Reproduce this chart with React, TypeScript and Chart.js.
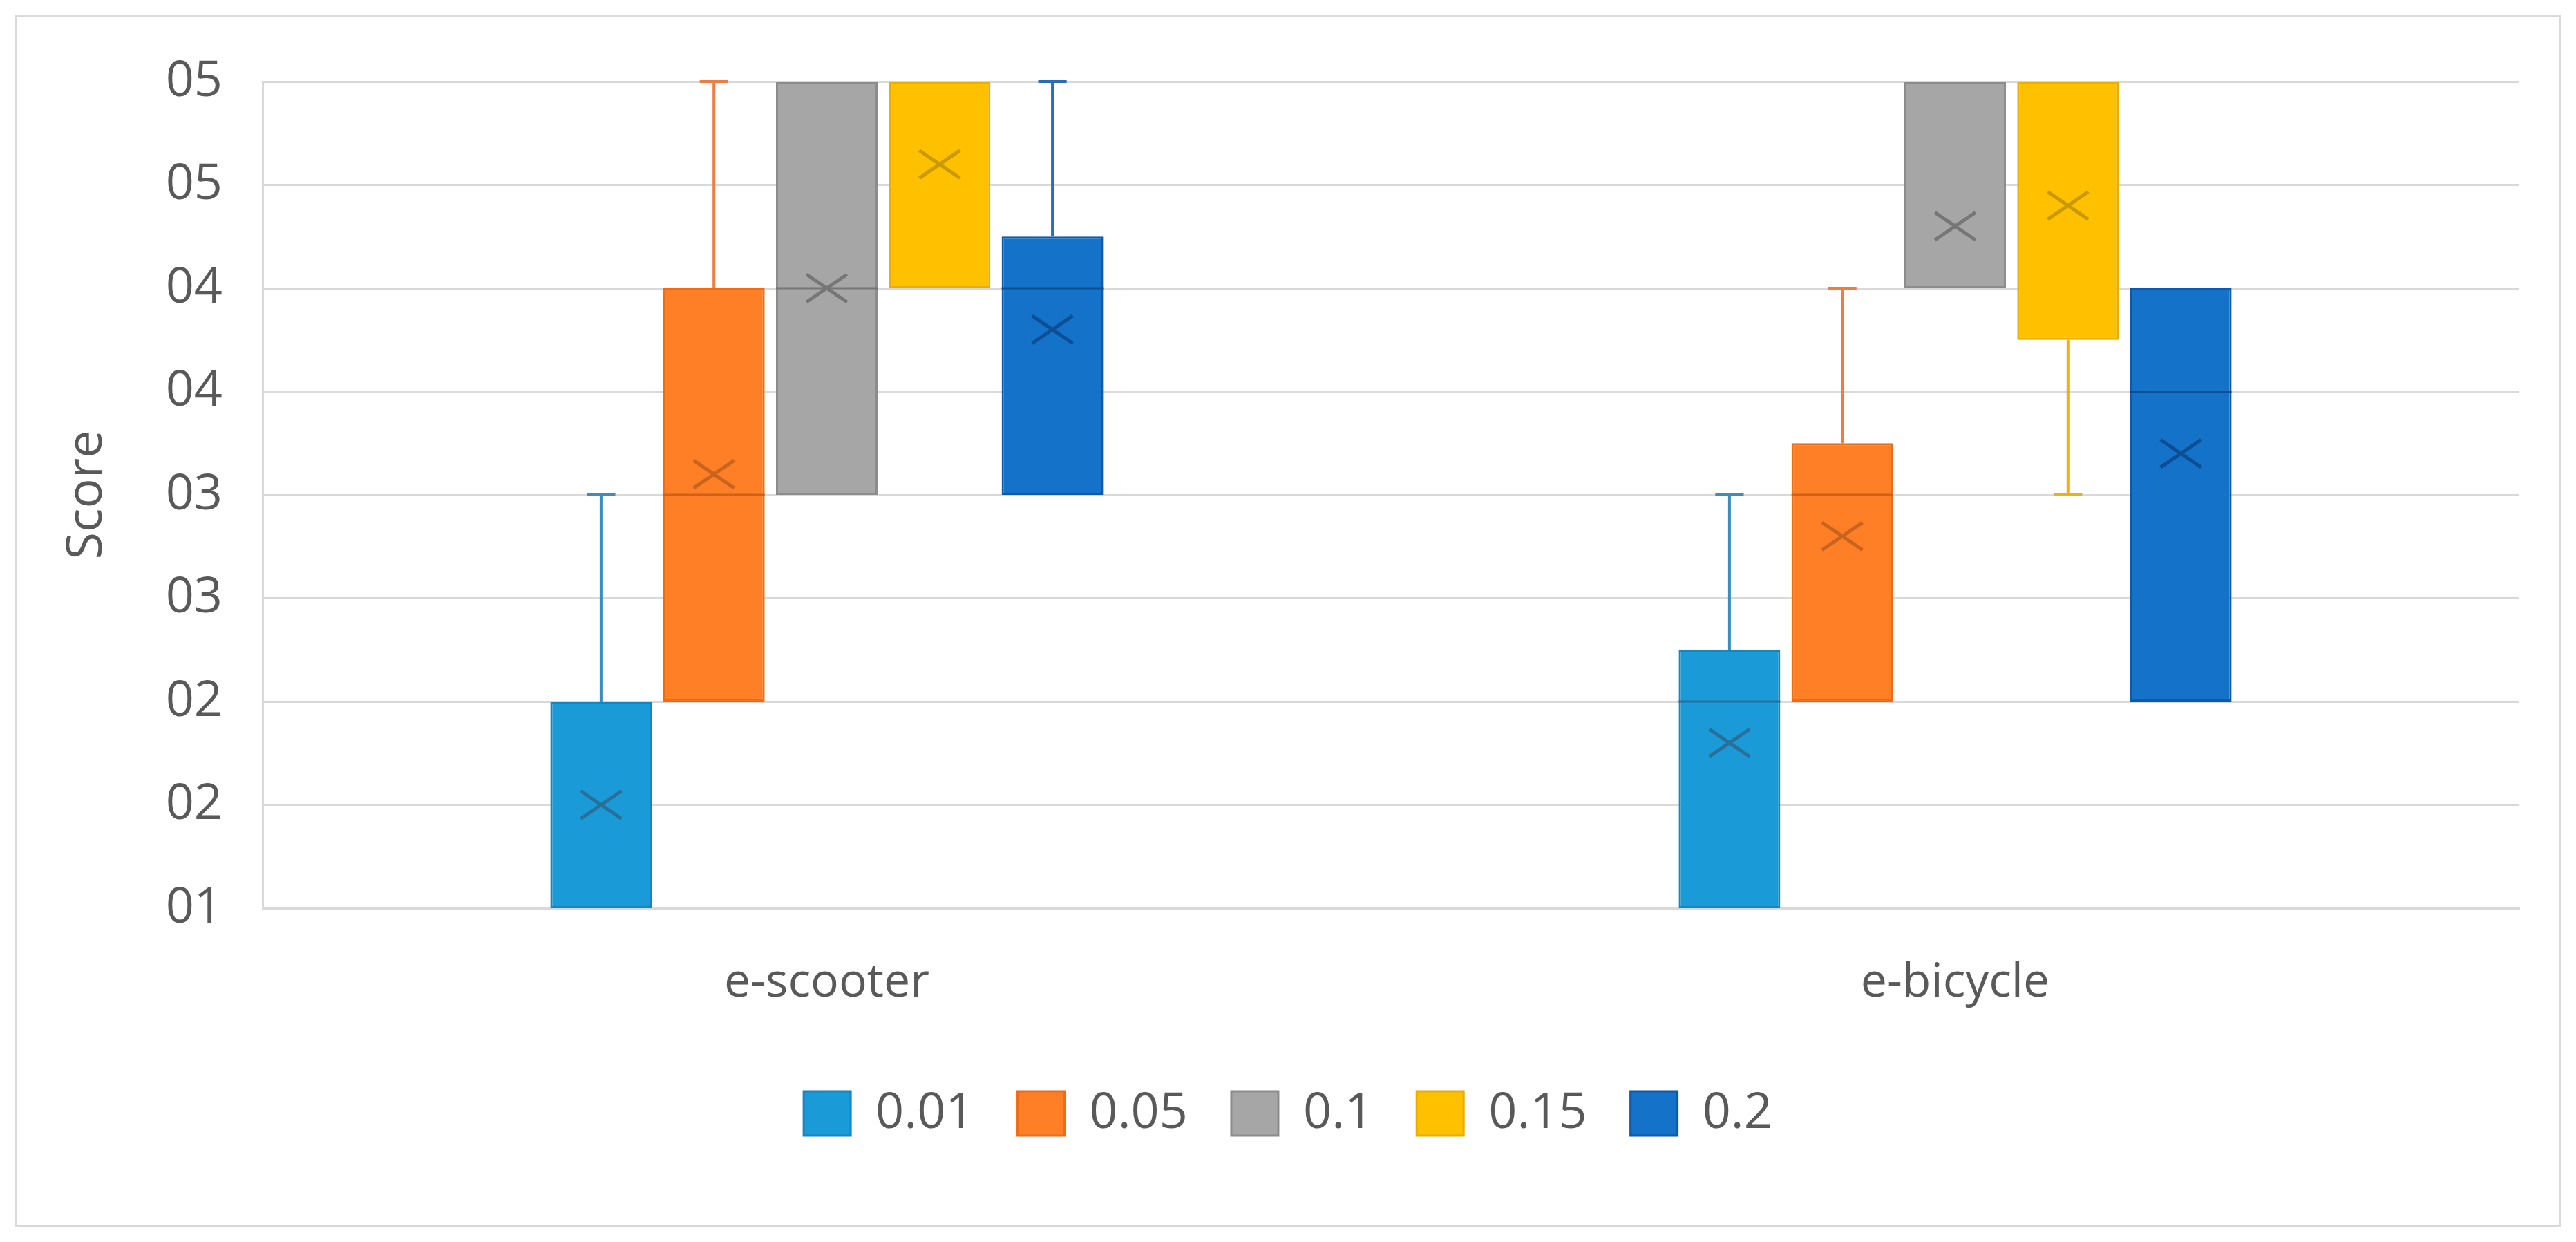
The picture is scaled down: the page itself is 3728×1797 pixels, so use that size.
import { useEffect, useRef } from 'react';
import { Chart, registerables } from 'chart.js';

Chart.register(...registerables);

// ---- data ----
const categories = ['e-scooter', 'e-bicycle'];
const seriesLabels = ['0.01', '0.05', '0.1', '0.15', '0.2'];
// [series][category]
const minValues = [[1, 1], [2, 2], [3, 4], [4, 3], [3, 2]];
const q1Values = [[1, 1], [2, 2], [3, 4], [4, 3.75], [3, 2]];
const medianValues = [[1, 2], [3, 3], [4, 4], [5, 5], [4, 3.5]];
const q3Values = [[2, 2.25], [4, 3.25], [5, 5], [5, 5], [4.25, 4]];
const maxValues = [[3, 3], [5, 4], [5, 5], [5, 5], [5, 4]];
const meanValues = [[1.5, 1.8], [3.1, 2.8], [4, 4.3], [4.6, 4.4], [3.8, 3.2]];
const yMin = 1;
const yMax = 5;
const yStep = 0.5;

// ---- styles ----
const fillColors = ['#1A9AD7', '#FE7F26', '#A6A6A6', '#FFC000', '#1472C9'];
const borderColors = ['#1686BF', '#EE6C15', '#8C8C8C', '#EAAE00', '#0C5AAE'];
const whiskerColors = ['#3A8DC2', '#EF7C42', '#8C8C8C', '#EDB114', '#2A6CB8'];
const markColors = ['#2A6F9A', '#C8641E', '#767676', '#C89A00', '#0C4E94'];
const textColor = '#595959';
const gridColor = '#D9D9D9';
const fontFamily = '"Open Sans", "Noto Sans", sans-serif';

const boxExtras = {
  id: 'boxExtras',
  afterLayout(chart: any) {
    if (chart.legend) {
      chart.legend.left += 26;
      chart.legend.right += 26;
    }
  },
  beforeDraw(chart: any) {
    const ctx = chart.ctx;
    ctx.save();
    ctx.fillStyle = '#ffffff';
    ctx.fillRect(0, 0, chart.width, chart.height);
    ctx.strokeStyle = gridColor;
    ctx.lineWidth = 3;
    ctx.strokeRect(23.5, 23.5, chart.width - 47, chart.height - 47);
    ctx.restore();
  },
  afterDatasetsDraw(chart: any) {
    const ctx = chart.ctx;
    const ys = chart.scales.y;
    seriesLabels.forEach((_, i) => {
      const meta = chart.getDatasetMeta(i);
      meta.data.forEach((bar: any, j: number) => {
        const x = bar.x;
        const w = bar.width;
        const capHalf = w * 0.14;
        const pQ1 = ys.getPixelForValue(q1Values[i][j]);
        const pQ3 = ys.getPixelForValue(q3Values[i][j]);
        const pMin = ys.getPixelForValue(minValues[i][j]);
        const pMax = ys.getPixelForValue(maxValues[i][j]);
        const pMed = ys.getPixelForValue(medianValues[i][j]);
        const pMean = ys.getPixelForValue(meanValues[i][j]);
        ctx.save();
        ctx.lineWidth = 4;
        ctx.strokeStyle = whiskerColors[i];
        ctx.lineCap = 'butt';
        if (maxValues[i][j] > q3Values[i][j]) {
          ctx.beginPath();
          ctx.moveTo(x, pQ3);
          ctx.lineTo(x, pMax);
          ctx.moveTo(x - capHalf, pMax);
          ctx.lineTo(x + capHalf, pMax);
          ctx.stroke();
        }
        if (minValues[i][j] < q1Values[i][j]) {
          ctx.beginPath();
          ctx.moveTo(x, pQ1);
          ctx.lineTo(x, pMin);
          ctx.moveTo(x - capHalf, pMin);
          ctx.lineTo(x + capHalf, pMin);
          ctx.stroke();
        }
        ctx.strokeStyle = markColors[i];
        if (medianValues[i][j] > q1Values[i][j] && medianValues[i][j] < q3Values[i][j]) {
          ctx.lineWidth = 3;
          ctx.beginPath();
          ctx.moveTo(x - w / 2, pMed);
          ctx.lineTo(x + w / 2, pMed);
          ctx.stroke();
        }
        const hw = w * 0.2;
        const hh = hw * 0.68;
        ctx.lineWidth = 5;
        ctx.beginPath();
        ctx.moveTo(x - hw, pMean - hh);
        ctx.lineTo(x + hw, pMean + hh);
        ctx.moveTo(x - hw, pMean + hh);
        ctx.lineTo(x + hw, pMean - hh);
        ctx.stroke();
        ctx.restore();
      });
    });
  },
};

export default function App() {
  const canvasRef = useRef<HTMLCanvasElement | null>(null);

  useEffect(() => {
    if (!canvasRef.current) return;
    const chart = new Chart(canvasRef.current, {
      type: 'bar',
      data: {
        labels: categories,
        datasets: seriesLabels.map((label, i) => ({
          label,
          data: categories.map((_, j) => [q1Values[i][j], q3Values[i][j]]) as any,
          backgroundColor: fillColors[i],
          borderColor: borderColors[i],
          borderWidth: 3,
          borderSkipped: false,
          categoryPercentage: 0.5,
          barPercentage: 0.9,
        })),
      },
      options: {
        responsive: false,
        animation: false,
        devicePixelRatio: 1,
        layout: { padding: { left: 30, top: 118, right: 82, bottom: 140 } },
        plugins: {
          tooltip: { enabled: false },
          legend: {
            position: 'bottom',
            labels: {
              boxWidth: 68,
              boxHeight: 64,
              padding: 63,
              color: textColor,
              font: { family: fontFamily, size: 72 },
            },
          },
        },
        scales: {
          x: {
            grid: { display: false, drawTicks: false },
            border: { display: true, color: gridColor, width: 3 },
            ticks: {
              color: textColor,
              padding: 68,
              font: { family: fontFamily, size: 68 },
            },
            afterFit: (scale: any) => {
              scale.height = 198;
            },
          },
          y: {
            min: yMin,
            max: yMax,
            grid: { color: gridColor, lineWidth: 3, drawTicks: false },
            border: { display: true, color: gridColor, width: 3 },
            ticks: {
              stepSize: yStep,
              color: textColor,
              padding: 58,
              font: { family: fontFamily, size: 72 },
              callback: (v: any) => String(Math.round(Number(v))).padStart(2, '0'),
            },
            title: {
              display: true,
              text: 'Score',
              color: textColor,
              font: { family: fontFamily, size: 72 },
              padding: { top: 53, bottom: 0 },
            },
            afterFit: (scale: any) => {
              scale.width = 350;
            },
          },
        },
      },
      plugins: [boxExtras],
    });
    return () => chart.destroy();
  }, []);

  return (
    <div style={{ position: 'fixed', left: 0, top: 0, width: 3728, height: 1797, background: '#fff' }}>
      <canvas ref={canvasRef} width={3728} height={1797} style={{ display: 'block', width: 3728, height: 1797 }} />
    </div>
  );
}
